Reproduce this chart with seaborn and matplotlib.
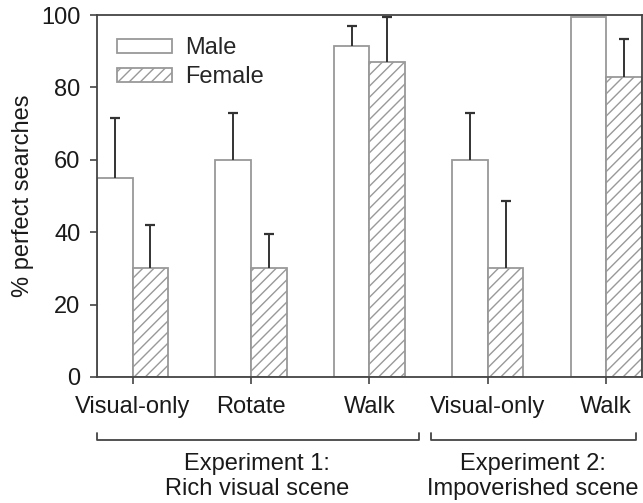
import matplotlib
matplotlib.use("Agg")
import matplotlib.pyplot as plt
import matplotlib.transforms as mtransforms
import seaborn as sns
import pandas as pd
import numpy as np

# ---- data ----
conditions = ["E1 Visual-only", "E1 Rotate", "E1 Walk", "E2 Visual-only", "E2 Walk"]
tick_labels = ["Visual-only", "Rotate", "Walk", "Visual-only", "Walk"]
male_vals = [55, 60, 91.5, 60, 99.6]
female_vals = [30, 30, 87, 30, 83]
male_err = [16.5, 13, 5.5, 13, 0]
female_err = [12, 9.5, 12.5, 18.5, 10.5]
groups = ["Male", "Female"]
experiments = ["Experiment 1:\nRich visual scene", "Experiment 2:\nImpoverished scene"]

df = pd.DataFrame({
    "condition": conditions * 2,
    "sex": ["Male"] * 5 + ["Female"] * 5,
    "value": male_vals + female_vals,
    "err": male_err + female_err,
})

sns.set_theme(style="white")
plt.rcParams["font.family"] = ["Liberation Sans", "DejaVu Sans"]

FS = 17
fig = plt.figure(figsize=(6.43, 5.03), dpi=100)
ax = fig.add_axes([0.151, 0.2505, 0.847, 0.7195])

edge = "#999999"
sns.barplot(data=df, x="condition", y="value", hue="sex", order=conditions,
            hue_order=groups, palette=["white", "white"], width=0.6, gap=0,
            errorbar=None, edgecolor=edge, linewidth=1.3, ax=ax, legend=True)

nc = len(conditions)
bars = ax.patches[: 2 * nc]
for i, b in enumerate(bars):
    if i >= nc:
        b.set_hatch("///")
    b.set_edgecolor(edge)

# error bars (upper only, with top cap)
for i, b in enumerate(bars):
    sex = groups[i // nc]
    c = conditions[i % nc]
    row = df[(df.sex == sex) & (df.condition == c)].iloc[0]
    if row.err > 0:
        xc = b.get_x() + b.get_width() / 2
        top = row.value + row.err
        ax.vlines(xc, row.value, top, color="#333333", lw=1.4, zorder=3)
        ax.plot([xc], [top], marker="_", ms=7, mew=1.6, color="#333333",
                zorder=3, clip_on=False)

ax.set_ylim(0, 100)
ax.set_xlim(-0.3, 4.3)
ax.set_yticks([0, 20, 40, 60, 80, 100])
ax.set_xticks(range(nc))
ax.set_xticklabels(tick_labels)
ax.tick_params(axis="both", which="major", labelsize=FS, length=5, width=1.2,
               color="#444444", labelcolor="#1a1a1a", direction="out",
               bottom=True, left=True)
ax.tick_params(axis="x", pad=9)
ax.tick_params(axis="y", pad=7)
ax.set_xlabel("")
ax.set_ylabel("% perfect searches", fontsize=FS, color="#1a1a1a", labelpad=5)
for s in ax.spines.values():
    s.set_color("#444444")
    s.set_linewidth(1.3)
    s.set_visible(True)

# legend
h, l = ax.get_legend_handles_labels()
for hh in h:
    hh.set_edgecolor(edge)
h[1].set_hatch("///")
ax.legend(h, l, loc="upper left", bbox_to_anchor=(0.02, 0.965), frameon=False,
          fontsize=FS, handlelength=2.3, handleheight=0.55, labelspacing=0.3,
          handletextpad=0.55, borderaxespad=0)

# brackets
trans = mtransforms.blended_transform_factory(ax.transData, ax.transAxes)
spans = [(-0.3, 2.42), (2.52, 4.25)]
centers = [1.05, 3.38]
for (x0, x1), cx, txt in zip(spans, centers, experiments):
    ax.plot([x0, x0, x1, x1], [-0.155, -0.1745, -0.1745, -0.155], transform=trans,
            color="#444444", lw=1.3, clip_on=False)
    ax.text(cx, -0.21, txt, transform=trans, ha="center", va="top",
            fontsize=FS, color="#1a1a1a", linespacing=1.2)

fig.savefig("out.png", dpi=100)
